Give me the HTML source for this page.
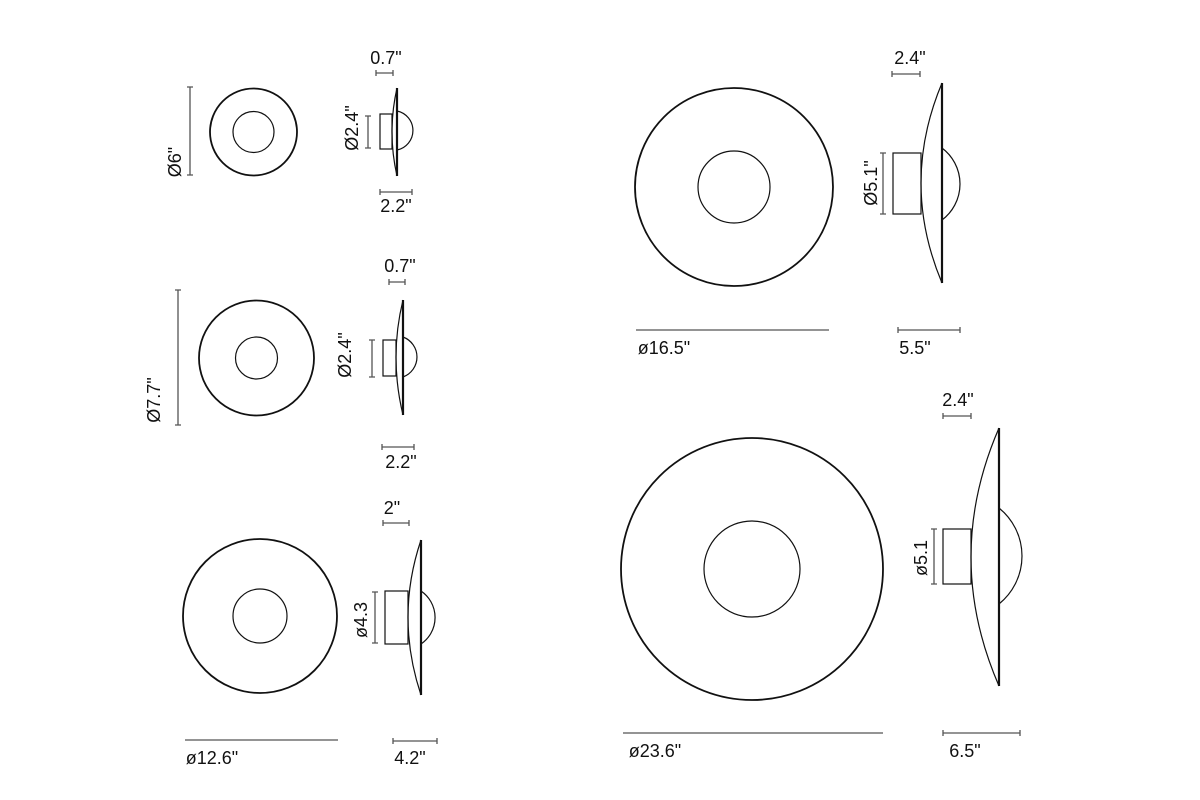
<!DOCTYPE html>
<html><head><meta charset="utf-8"><style>
html,body{margin:0;padding:0;background:#fff;}
svg{display:block;}
text{font-family:"Liberation Sans",sans-serif;font-size:18px;fill:#111;}
.d{stroke:#555;stroke-width:1.3;fill:none;}
.o{stroke:#111;stroke-width:1.2;fill:none;}
.O{stroke:#111;stroke-width:1.8;fill:none;}
.f{stroke:#111;stroke-width:2.2;}
</style></head><body>
<svg width="1200" height="800" viewBox="0 0 1200 800" xmlns="http://www.w3.org/2000/svg">
<!-- Item 1 -->
<circle class="O" cx="253.5" cy="132" r="43.5"/>
<circle class="o" cx="253.5" cy="132" r="20.5"/>
<path class="d" d="M190 87V175M187 87H193M187 175H193"/>
<text transform="translate(181,162) rotate(-90)" text-anchor="middle">Ø6"</text>
<rect class="o" x="380" y="114" width="12" height="35"/>
<path class="o" d="M397 88 Q387 132 397 176"/>
<path class="o" d="M397 111 A19.9 19.9 0 0 1 397 150"/>
<path class="f" d="M397 88V176"/>
<path class="d" d="M368 116V148M365 116H371M365 148H371"/>
<text transform="translate(358,128) rotate(-90)" text-anchor="middle">Ø2.4"</text>
<path class="d" d="M376 73H393M376 70V76M393 70V76"/>
<text x="386" y="64" text-anchor="middle">0.7"</text>
<path class="d" d="M380 192H412M380 189V195M412 189V195"/>
<text x="396" y="212" text-anchor="middle">2.2"</text>

<!-- Item 2 -->
<circle class="O" cx="256.5" cy="358" r="57.5"/>
<circle class="o" cx="256.5" cy="358" r="21"/>
<path class="d" d="M178 290V425M175 290H181M175 425H181"/>
<text transform="translate(160,400) rotate(-90)" text-anchor="middle">Ø7.7"</text>
<rect class="o" x="383" y="340" width="13" height="36"/>
<path class="o" d="M403 300 Q389 357 403 415"/>
<path class="o" d="M403 337 A21.3 21.3 0 0 1 403 377"/>
<path class="f" d="M403 300V415"/>
<path class="d" d="M372 340V377M369 340H375M369 377H375"/>
<text transform="translate(351,355) rotate(-90)" text-anchor="middle">Ø2.4"</text>
<path class="d" d="M389 282H405M389 279V285M405 279V285"/>
<text x="400" y="272" text-anchor="middle">0.7"</text>
<path class="d" d="M382 447H414M382 444V450M414 444V450"/>
<text x="401" y="468" text-anchor="middle">2.2"</text>

<!-- Item 3 -->
<circle class="O" cx="260" cy="616" r="77"/>
<circle class="o" cx="260" cy="616" r="27"/>
<path class="d" d="M185 740H338"/>
<text x="212" y="764" text-anchor="middle">ø12.6"</text>
<rect class="o" x="385" y="591" width="23" height="53"/>
<path class="o" d="M421 540 Q395 617 421 695"/>
<path class="o" d="M421 591 A32 32 0 0 1 421 644"/>
<path class="f" d="M421 540V695"/>
<path class="d" d="M375 592V643M372 592H378M372 643H378"/>
<text transform="translate(367,620) rotate(-90)" text-anchor="middle">ø4.3</text>
<path class="d" d="M383 523H409M383 520V526M409 520V526"/>
<text x="392" y="514" text-anchor="middle">2"</text>
<path class="d" d="M393 741H437M393 738V744M437 738V744"/>
<text x="410" y="764" text-anchor="middle">4.2"</text>

<!-- Item 4 -->
<circle class="O" cx="734" cy="187" r="99"/>
<circle class="o" cx="734" cy="187" r="36"/>
<path class="d" d="M636 330H829"/>
<text x="664" y="354" text-anchor="middle">ø16.5"</text>
<rect class="o" x="893" y="153" width="28" height="61"/>
<path class="o" d="M942 83 Q900 183 942 283"/>
<path class="o" d="M942 148 A45 45 0 0 1 942 220"/>
<path class="f" d="M942 83V283"/>
<path class="d" d="M883 153V214M880 153H886M880 214H886"/>
<text transform="translate(877,183) rotate(-90)" text-anchor="middle">Ø5.1"</text>
<path class="d" d="M892 74H920M892 71V77M920 71V77"/>
<text x="910" y="64" text-anchor="middle">2.4"</text>
<path class="d" d="M898 330H960M898 327V333M960 327V333"/>
<text x="915" y="354" text-anchor="middle">5.5"</text>

<!-- Item 5 -->
<circle class="O" cx="752" cy="569" r="131"/>
<circle class="o" cx="752" cy="569" r="48"/>
<path class="d" d="M623 733H883"/>
<text x="655" y="757" text-anchor="middle">ø23.6"</text>
<rect class="o" x="943" y="529" width="28" height="55"/>
<path class="o" d="M999 428 Q943 557 999 686"/>
<path class="o" d="M999 508 A61.6 61.6 0 0 1 999 604"/>
<path class="f" d="M999 428V686"/>
<path class="d" d="M934 529V584M931 529H937M931 584H937"/>
<text transform="translate(927,558) rotate(-90)" text-anchor="middle">ø5.1</text>
<path class="d" d="M943 416H971M943 413V419M971 413V419"/>
<text x="958" y="406" text-anchor="middle">2.4"</text>
<path class="d" d="M943 733H1020M943 730V736M1020 730V736"/>
<text x="965" y="757" text-anchor="middle">6.5"</text>
</svg>
</body></html>
